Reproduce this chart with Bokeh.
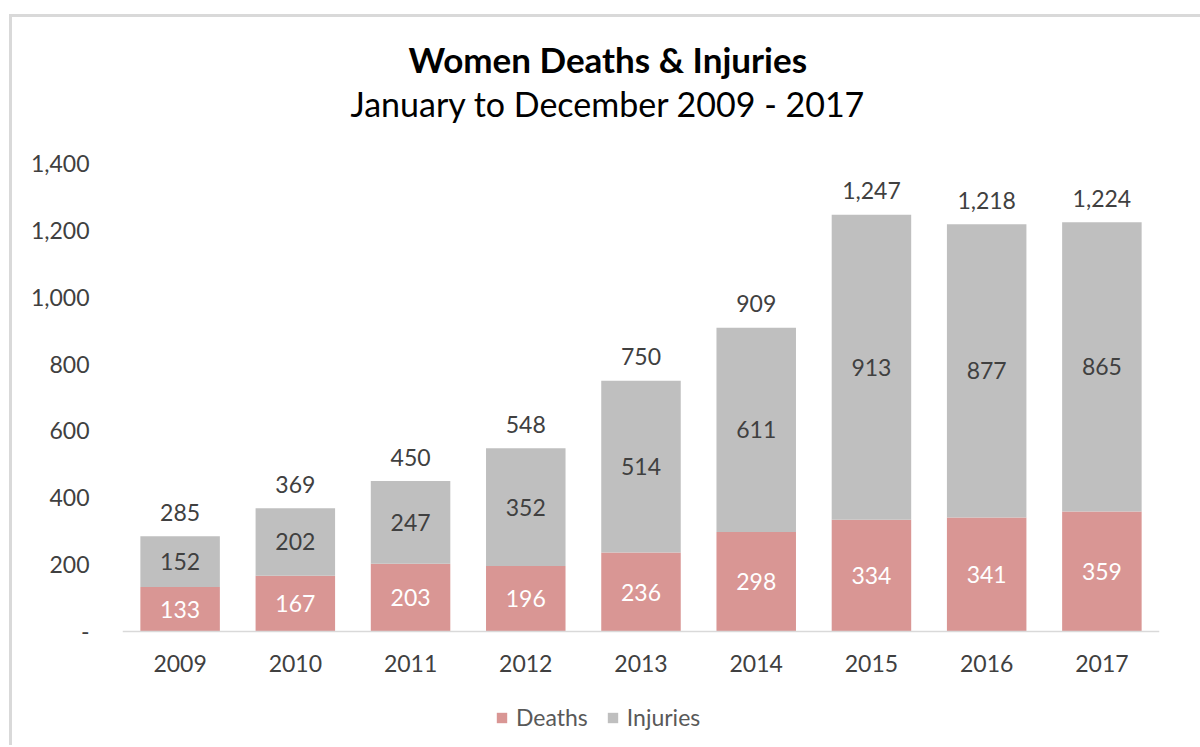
from bokeh.plotting import figure
from bokeh.models import (FactorRange, Range1d, FixedTicker, CustomJSTickFormatter,
                          Title, Legend, LegendItem, ColumnDataSource)
from bokeh.core.properties import value
from bokeh.embed import file_html
from bokeh.resources import INLINE

years = ["2009", "2010", "2011", "2012", "2013", "2014", "2015", "2016", "2017"]
deaths = [133, 167, 203, 196, 236, 298, 334, 341, 359]
injuries = [152, 202, 247, 352, 514, 611, 913, 877, 865]
totals = [285, 369, 450, 548, 750, 909, 1247, 1218, 1224]
y_ticks = [0, 200, 400, 600, 800, 1000, 1200, 1400]

FONT = "Lato"
RED = "#d99694"
GRAY = "#bfbfbf"
TXT = "#404040"
LBL = "23px"

src = ColumnDataSource(dict(
    years=years, deaths=deaths, injuries=injuries, totals=totals,
    d_y=[d / 2 for d in deaths],
    i_y=[d + i / 2 for d, i in zip(deaths, injuries)],
    d_lbl=[f"{v:,}" for v in deaths],
    i_lbl=[f"{v:,}" for v in injuries],
    t_lbl=[f"{v:,}" for v in totals],
))

# frame extends below zero so the x axis (fixed at 0) and the legend sit inside it
p = figure(x_range=FactorRange(*years), y_range=Range1d(-341, 1400),
           frame_width=1037, frame_height=582,
           output_backend="svg", toolbar_location=None,
           min_border_left=110, min_border_right=42, min_border_top=146, min_border_bottom=0)
p.styles = {"border-left": "3px solid #d9d9d9", "border-top": "3px solid #d9d9d9",
            "margin-left": "9px", "margin-top": "14px"}
p.outline_line_color = None
p.grid.grid_line_color = None

r = p.vbar_stack(["deaths", "injuries"], x="years", width=0.69, color=[RED, GRAY],
                 source=src, line_color=None)

p.text(x="years", y="d_y", text="d_lbl", source=src, text_align="center", text_baseline="middle",
       text_color="white", text_font=value(FONT), text_font_size=LBL)
p.text(x="years", y="i_y", text="i_lbl", source=src, text_align="center", text_baseline="middle",
       text_color=TXT, text_font=value(FONT), text_font_size=LBL)
p.text(x="years", y="totals", text="t_lbl", source=src, text_align="center", text_baseline="middle",
       y_offset=-24, text_color=TXT, text_font=value(FONT), text_font_size=LBL)

p.yaxis.ticker = FixedTicker(ticks=y_ticks)
p.yaxis.formatter = CustomJSTickFormatter(code="return tick == 0 ? '-' : tick.toLocaleString('en-US');")
p.yaxis.axis_line_color = None
p.yaxis.major_tick_line_color = None
p.yaxis.minor_tick_line_color = None
p.yaxis.major_label_standoff = 27
p.yaxis.major_label_text_font = FONT
p.yaxis.major_label_text_font_size = LBL
p.yaxis.major_label_text_color = TXT

p.xaxis.fixed_location = 0
p.xaxis.axis_line_color = "#d9d9d9"
p.xaxis.axis_line_width = 1.5
p.xaxis.major_tick_line_color = None
p.xaxis.minor_tick_line_color = None
p.xaxis.major_label_standoff = 17
p.xaxis.major_label_text_font = FONT
p.xaxis.major_label_text_font_size = LBL
p.xaxis.major_label_text_color = TXT

gap_top = Title(text=" ", standoff=0, text_font_size="34px")
sub = Title(text="January to December  2009 - 2017", align="left", offset=228, standoff=0,
            text_font=FONT, text_font_size="34px", text_font_style="normal", text_color="black")
ttl = Title(text="Women Deaths & Injuries", align="left", offset=286, standoff=2,
            text_font=FONT, text_font_size="35px", text_font_style="bold", text_color="black")
p.add_layout(gap_top, "above")
p.add_layout(sub, "above")
p.add_layout(ttl, "above")

legend = Legend(items=[LegendItem(label="Deaths", renderers=[r[0]]),
                       LegendItem(label="Injuries", renderers=[r[1]])],
                orientation="horizontal", location=(373, 14), margin=0, padding=6,
                label_text_font=FONT, label_text_font_size=LBL, label_text_color="#595959",
                glyph_width=13, glyph_height=13, label_standoff=8,
                border_line_color=None, background_fill_alpha=0, spacing=18)
p.add_layout(legend)

open("out.html", "w").write(file_html(p, INLINE))
